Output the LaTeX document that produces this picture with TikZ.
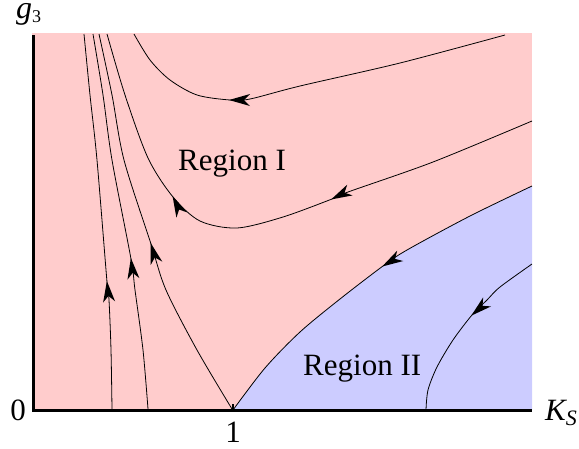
\documentclass[tikz,border=0pt]{standalone}
\usepackage{fontspec}
\setmainfont{Liberation Serif}
\newfontfamily\timesfont{Liberation Serif}
\definecolor{regpink}{HTML}{FFCCCC}
\definecolor{regblue}{HTML}{CCCCFF}
\begin{document}
\begin{tikzpicture}[x=1pt,y=-1pt,
  flow/.style={line width=0.8pt, black},
  ahead/.pic={\fill[black] (1pt,0pt) -- (-20pt,6pt) -- (-14pt,0pt) -- (-20pt,-6pt) -- cycle;},
  lbl/.style={font=\timesfont\fontsize{31}{36}\selectfont, inner sep=0pt},
  axis/.style={line width=3pt}]
\useasboundingbox (0,0) rectangle (579,448);
% regions
\fill[regpink] (32,33) rectangle (532,410);
\fill[regblue] plot[smooth] coordinates {(233,410) (265,368) (300,332) (340,299) (383,266) (407,250) (470,216) (532,186)} -- (532,410) -- cycle;
% separatrix (boundary)
\draw[flow] plot[smooth] coordinates {(532,186) (470,216) (407,250) (383,266) (340,299) (300,332) (265,368) (233,410)};
\pic[rotate=210.5] at (383,266) {ahead};
% region II flow line
\draw[flow] plot[smooth] coordinates {(532,264) (500,287) (487,300) (472,315) (453,340) (437,367) (428,390) (426,410)};
\pic[rotate=221] at (472,315) {ahead};
% top curve
\draw[flow] plot[smooth] coordinates {(505,35) (400,63) (300,86) (250,99) (230,100) (197,95) (170,80) (150,60) (134,34)};
\pic[rotate=180] at (230,100) {ahead};
% second curve
\draw[flow] plot[smooth] coordinates {(532,121) (433,162) (348,192) (332,199) (283,217) (237,228) (200,221) (173,197) (148,158) (125,95) (107,34)};
\pic[rotate=206.6] at (332,199) {ahead};
\pic[rotate=116] at (173,197) {ahead};
% lines from the axis
\draw[flow] plot[smooth] coordinates {(112,409) (111,350) (109,300) (107,282) (97,160) (90,95) (84,34)};
\pic[rotate=96] at (107,282) {ahead};
\draw[flow] plot[smooth] coordinates {(148,409) (143,350) (135,290) (131,259) (112,160) (103,95) (93,34)};
\pic[rotate=97] at (131,259) {ahead};
\draw[flow] plot[smooth] coordinates {(232,409) (197,350) (166,290) (151,244) (124,160) (112,95) (99,34)};
\pic[rotate=106] at (151,244) {ahead};
% axes
\draw[axis] (33,35) -- (33,410) -- (532,410);
\draw[line width=2.5pt] (233,410) -- (233,404);
% labels
\node[lbl,anchor=base west] (r1) at (178,170) {Region I};
\node[lbl,anchor=base west] (r2) at (303,375) {Region II};
\node[lbl,anchor=base east] (zero) at (26,420) {0};
\node[lbl,anchor=base] (one) at (233,442) {1};
\node[lbl,anchor=base west] (gy) at (16,18) {\fontsize{32}{36}\selectfont\itshape g\raisebox{-4pt}{\fontsize{18}{18}\selectfont\upshape 3}};
\node[lbl,anchor=base west] (kx) at (545,420) {\itshape K\raisebox{-5pt}{\fontsize{22}{22}\selectfont S}};
\end{tikzpicture}
\end{document}
